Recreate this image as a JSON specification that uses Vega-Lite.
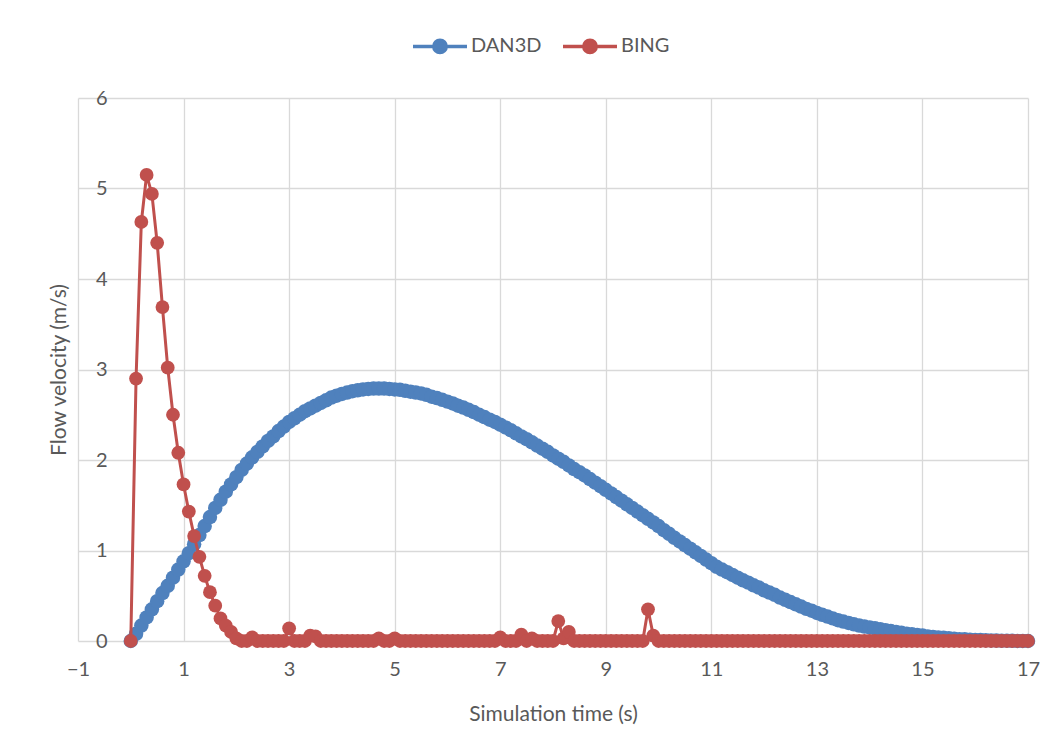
{
  "$schema": "https://vega.github.io/schema/vega-lite/v6.json",
  "width": 950,
  "height": 543,
  "autosize": {"type": "none"},
  "padding": {"left": 78, "top": 98, "right": 33, "bottom": 115},
  "background": "white",
  "config": {
    "font": "Lato",
    "view": {"stroke": null},
    "axis": {
      "labelColor": "#595959",
      "titleColor": "#595959",
      "titleFontWeight": "normal",
      "labelFontSize": 20,
      "titleFontSize": 21,
      "gridColor": "#d9d9d9",
      "gridWidth": 1.3,
      "domain": false,
      "ticks": false,
      "labelFlush": false
    }
  },
  "data": {
    "values": [
      {"t": 0, "DAN3D": 0, "BING": 0},
      {"t": 0.1, "DAN3D": 0.08, "BING": 2.9},
      {"t": 0.2, "DAN3D": 0.17, "BING": 4.63},
      {"t": 0.3, "DAN3D": 0.26, "BING": 5.15},
      {"t": 0.4, "DAN3D": 0.35, "BING": 4.94},
      {"t": 0.5, "DAN3D": 0.44, "BING": 4.4},
      {"t": 0.6, "DAN3D": 0.53, "BING": 3.69},
      {"t": 0.7, "DAN3D": 0.61, "BING": 3.02},
      {"t": 0.8, "DAN3D": 0.7, "BING": 2.5},
      {"t": 0.9, "DAN3D": 0.79, "BING": 2.08},
      {"t": 1.0, "DAN3D": 0.88, "BING": 1.73},
      {"t": 1.1, "DAN3D": 0.97, "BING": 1.43},
      {"t": 1.2, "DAN3D": 1.07, "BING": 1.16},
      {"t": 1.3, "DAN3D": 1.17, "BING": 0.93},
      {"t": 1.4, "DAN3D": 1.27, "BING": 0.72},
      {"t": 1.5, "DAN3D": 1.37, "BING": 0.54},
      {"t": 1.6, "DAN3D": 1.47, "BING": 0.39},
      {"t": 1.7, "DAN3D": 1.56, "BING": 0.25},
      {"t": 1.8, "DAN3D": 1.65, "BING": 0.17},
      {"t": 1.9, "DAN3D": 1.73, "BING": 0.1},
      {"t": 2.0, "DAN3D": 1.81, "BING": 0.03},
      {"t": 2.1, "DAN3D": 1.89, "BING": 0},
      {"t": 2.2, "DAN3D": 1.96, "BING": 0},
      {"t": 2.3, "DAN3D": 2.03, "BING": 0.04},
      {"t": 2.4, "DAN3D": 2.09, "BING": 0},
      {"t": 2.5, "DAN3D": 2.15, "BING": 0},
      {"t": 2.6, "DAN3D": 2.21, "BING": 0},
      {"t": 2.7, "DAN3D": 2.26, "BING": 0},
      {"t": 2.8, "DAN3D": 2.32, "BING": 0},
      {"t": 2.9, "DAN3D": 2.37, "BING": 0},
      {"t": 3.0, "DAN3D": 2.42, "BING": 0.14},
      {"t": 3.1, "DAN3D": 2.46, "BING": 0},
      {"t": 3.2, "DAN3D": 2.5, "BING": 0},
      {"t": 3.3, "DAN3D": 2.54, "BING": 0},
      {"t": 3.4, "DAN3D": 2.57, "BING": 0.06},
      {"t": 3.5, "DAN3D": 2.6, "BING": 0.05},
      {"t": 3.6, "DAN3D": 2.63, "BING": 0},
      {"t": 3.7, "DAN3D": 2.66, "BING": 0},
      {"t": 3.8, "DAN3D": 2.69, "BING": 0},
      {"t": 3.9, "DAN3D": 2.71, "BING": 0},
      {"t": 4.0, "DAN3D": 2.73, "BING": 0},
      {"t": 4.1, "DAN3D": 2.745, "BING": 0},
      {"t": 4.2, "DAN3D": 2.76, "BING": 0},
      {"t": 4.3, "DAN3D": 2.77, "BING": 0},
      {"t": 4.4, "DAN3D": 2.78, "BING": 0},
      {"t": 4.5, "DAN3D": 2.785, "BING": 0},
      {"t": 4.6, "DAN3D": 2.79, "BING": 0},
      {"t": 4.7, "DAN3D": 2.79, "BING": 0.03},
      {"t": 4.8, "DAN3D": 2.79, "BING": 0},
      {"t": 4.9, "DAN3D": 2.785, "BING": 0},
      {"t": 5.0, "DAN3D": 2.78, "BING": 0.03},
      {"t": 5.1, "DAN3D": 2.775, "BING": 0},
      {"t": 5.2, "DAN3D": 2.765, "BING": 0},
      {"t": 5.3, "DAN3D": 2.755, "BING": 0},
      {"t": 5.4, "DAN3D": 2.745, "BING": 0},
      {"t": 5.5, "DAN3D": 2.735, "BING": 0},
      {"t": 5.6, "DAN3D": 2.72, "BING": 0},
      {"t": 5.7, "DAN3D": 2.7, "BING": 0},
      {"t": 5.8, "DAN3D": 2.685, "BING": 0},
      {"t": 5.9, "DAN3D": 2.665, "BING": 0},
      {"t": 6.0, "DAN3D": 2.645, "BING": 0},
      {"t": 6.1, "DAN3D": 2.625, "BING": 0},
      {"t": 6.2, "DAN3D": 2.6, "BING": 0},
      {"t": 6.3, "DAN3D": 2.58, "BING": 0},
      {"t": 6.4, "DAN3D": 2.555, "BING": 0},
      {"t": 6.5, "DAN3D": 2.53, "BING": 0},
      {"t": 6.6, "DAN3D": 2.5, "BING": 0},
      {"t": 6.7, "DAN3D": 2.475, "BING": 0},
      {"t": 6.8, "DAN3D": 2.445, "BING": 0},
      {"t": 6.9, "DAN3D": 2.42, "BING": 0},
      {"t": 7.0, "DAN3D": 2.39, "BING": 0.04},
      {"t": 7.1, "DAN3D": 2.36, "BING": 0},
      {"t": 7.2, "DAN3D": 2.33, "BING": 0},
      {"t": 7.3, "DAN3D": 2.295, "BING": 0},
      {"t": 7.4, "DAN3D": 2.26, "BING": 0.07},
      {"t": 7.5, "DAN3D": 2.23, "BING": 0},
      {"t": 7.6, "DAN3D": 2.195, "BING": 0.03},
      {"t": 7.7, "DAN3D": 2.16, "BING": 0},
      {"t": 7.8, "DAN3D": 2.125, "BING": 0},
      {"t": 7.9, "DAN3D": 2.09, "BING": 0},
      {"t": 8.0, "DAN3D": 2.05, "BING": 0},
      {"t": 8.1, "DAN3D": 2.015, "BING": 0.22},
      {"t": 8.2, "DAN3D": 1.98, "BING": 0.03},
      {"t": 8.3, "DAN3D": 1.94, "BING": 0.1},
      {"t": 8.4, "DAN3D": 1.9, "BING": 0},
      {"t": 8.5, "DAN3D": 1.865, "BING": 0},
      {"t": 8.6, "DAN3D": 1.83, "BING": 0},
      {"t": 8.7, "DAN3D": 1.79, "BING": 0},
      {"t": 8.8, "DAN3D": 1.75, "BING": 0},
      {"t": 8.9, "DAN3D": 1.71, "BING": 0},
      {"t": 9.0, "DAN3D": 1.67, "BING": 0},
      {"t": 9.1, "DAN3D": 1.63, "BING": 0},
      {"t": 9.2, "DAN3D": 1.59, "BING": 0},
      {"t": 9.3, "DAN3D": 1.55, "BING": 0},
      {"t": 9.4, "DAN3D": 1.51, "BING": 0},
      {"t": 9.5, "DAN3D": 1.47, "BING": 0},
      {"t": 9.6, "DAN3D": 1.43, "BING": 0},
      {"t": 9.7, "DAN3D": 1.39, "BING": 0},
      {"t": 9.8, "DAN3D": 1.35, "BING": 0.35},
      {"t": 9.9, "DAN3D": 1.31, "BING": 0.06},
      {"t": 10.0, "DAN3D": 1.27, "BING": 0},
      {"t": 10.1, "DAN3D": 1.225, "BING": 0},
      {"t": 10.2, "DAN3D": 1.185, "BING": 0},
      {"t": 10.3, "DAN3D": 1.14, "BING": 0},
      {"t": 10.4, "DAN3D": 1.1, "BING": 0},
      {"t": 10.5, "DAN3D": 1.06, "BING": 0},
      {"t": 10.6, "DAN3D": 1.02, "BING": 0},
      {"t": 10.7, "DAN3D": 0.98, "BING": 0},
      {"t": 10.8, "DAN3D": 0.94, "BING": 0},
      {"t": 10.9, "DAN3D": 0.9, "BING": 0},
      {"t": 11.0, "DAN3D": 0.86, "BING": 0},
      {"t": 11.1, "DAN3D": 0.82, "BING": 0},
      {"t": 11.2, "DAN3D": 0.79, "BING": 0},
      {"t": 11.3, "DAN3D": 0.76, "BING": 0},
      {"t": 11.4, "DAN3D": 0.73, "BING": 0},
      {"t": 11.5, "DAN3D": 0.7, "BING": 0},
      {"t": 11.6, "DAN3D": 0.67, "BING": 0},
      {"t": 11.7, "DAN3D": 0.645, "BING": 0},
      {"t": 11.8, "DAN3D": 0.615, "BING": 0},
      {"t": 11.9, "DAN3D": 0.59, "BING": 0},
      {"t": 12.0, "DAN3D": 0.56, "BING": 0},
      {"t": 12.1, "DAN3D": 0.535, "BING": 0},
      {"t": 12.2, "DAN3D": 0.51, "BING": 0},
      {"t": 12.3, "DAN3D": 0.48, "BING": 0},
      {"t": 12.4, "DAN3D": 0.455, "BING": 0},
      {"t": 12.5, "DAN3D": 0.43, "BING": 0},
      {"t": 12.6, "DAN3D": 0.405, "BING": 0},
      {"t": 12.7, "DAN3D": 0.38, "BING": 0},
      {"t": 12.8, "DAN3D": 0.355, "BING": 0},
      {"t": 12.9, "DAN3D": 0.335, "BING": 0},
      {"t": 13.0, "DAN3D": 0.31, "BING": 0},
      {"t": 13.1, "DAN3D": 0.29, "BING": 0},
      {"t": 13.2, "DAN3D": 0.27, "BING": 0},
      {"t": 13.3, "DAN3D": 0.25, "BING": 0},
      {"t": 13.4, "DAN3D": 0.23, "BING": 0},
      {"t": 13.5, "DAN3D": 0.215, "BING": 0},
      {"t": 13.6, "DAN3D": 0.2, "BING": 0},
      {"t": 13.7, "DAN3D": 0.185, "BING": 0},
      {"t": 13.8, "DAN3D": 0.17, "BING": 0},
      {"t": 13.9, "DAN3D": 0.16, "BING": 0},
      {"t": 14.0, "DAN3D": 0.15, "BING": 0},
      {"t": 14.1, "DAN3D": 0.14, "BING": 0},
      {"t": 14.2, "DAN3D": 0.13, "BING": 0},
      {"t": 14.3, "DAN3D": 0.12, "BING": 0},
      {"t": 14.4, "DAN3D": 0.11, "BING": 0},
      {"t": 14.5, "DAN3D": 0.1, "BING": 0},
      {"t": 14.6, "DAN3D": 0.09, "BING": 0},
      {"t": 14.7, "DAN3D": 0.08, "BING": 0},
      {"t": 14.8, "DAN3D": 0.075, "BING": 0},
      {"t": 14.9, "DAN3D": 0.065, "BING": 0},
      {"t": 15.0, "DAN3D": 0.06, "BING": 0},
      {"t": 15.1, "DAN3D": 0.05, "BING": 0},
      {"t": 15.2, "DAN3D": 0.045, "BING": 0},
      {"t": 15.3, "DAN3D": 0.04, "BING": 0},
      {"t": 15.4, "DAN3D": 0.035, "BING": 0},
      {"t": 15.5, "DAN3D": 0.03, "BING": 0},
      {"t": 15.6, "DAN3D": 0.025, "BING": 0},
      {"t": 15.7, "DAN3D": 0.02, "BING": 0},
      {"t": 15.8, "DAN3D": 0.018, "BING": 0},
      {"t": 15.9, "DAN3D": 0.015, "BING": 0},
      {"t": 16.0, "DAN3D": 0.012, "BING": 0},
      {"t": 16.1, "DAN3D": 0.01, "BING": 0},
      {"t": 16.2, "DAN3D": 0.008, "BING": 0},
      {"t": 16.3, "DAN3D": 0.006, "BING": 0},
      {"t": 16.4, "DAN3D": 0.005, "BING": 0},
      {"t": 16.5, "DAN3D": 0.004, "BING": 0},
      {"t": 16.6, "DAN3D": 0.003, "BING": 0},
      {"t": 16.7, "DAN3D": 0.002, "BING": 0},
      {"t": 16.8, "DAN3D": 0.001, "BING": 0},
      {"t": 16.9, "DAN3D": 0.001, "BING": 0},
      {"t": 17.0, "DAN3D": 0, "BING": 0}
    ]
  },
  "transform": [{"fold": ["DAN3D", "BING"], "as": ["series", "velocity"]}],
  "layer": [
    {
      "data": {"values": [{"axisAt": 0}]},
      "mark": {"type": "rule", "color": "#bfbfbf", "strokeWidth": 1.5},
      "encoding": {
        "x": {"field": "axisAt", "type": "quantitative"}
      }
    },
    {
      "transform": [{"filter": "datum.series === 'DAN3D'"}],
      "mark": {"type": "line", "strokeWidth": 3, "point": {"filled": true, "size": 210}},
      "encoding": {
        "x": {"field": "t", "type": "quantitative"},
        "y": {"field": "velocity", "type": "quantitative"},
        "color": {"field": "series", "type": "nominal"}
      }
    },
    {
      "transform": [{"filter": "datum.series === 'BING'"}],
      "mark": {"type": "line", "strokeWidth": 3, "point": {"filled": true, "size": 190}},
      "encoding": {
        "x": {"field": "t", "type": "quantitative"},
        "y": {"field": "velocity", "type": "quantitative"},
        "color": {"field": "series", "type": "nominal"}
      }
    }
  ],
  "encoding": {
    "x": {
      "field": "t",
      "type": "quantitative",
      "scale": {"domain": [-1, 17], "nice": false, "zero": false},
      "axis": {
        "title": "Simulation time (s)",
        "values": [-1, 1, 3, 5, 7, 9, 11, 13, 15, 17],
        "labelPadding": 18,
        "titleY": 62,
        "titleBaseline": "top"
      }
    },
    "y": {
      "field": "velocity",
      "type": "quantitative",
      "scale": {"domain": [0, 6], "nice": false},
      "axis": {
        "title": "Flow velocity (m/s)",
        "values": [0, 1, 2, 3, 4, 5, 6],
        "labelAlign": "right",
        "labelPadding": -29,
        "titleX": -19,
        "titleY": 271.5,
        "titleAngle": -90,
        "titleAlign": "center",
        "titleBaseline": "middle"
      }
    },
    "color": {
      "field": "series",
      "type": "nominal",
      "scale": {"domain": ["DAN3D", "BING"], "range": ["#4F81BD", "#C0504D"]},
      "legend": {
        "orient": "none",
        "direction": "horizontal",
        "legendX": 333,
        "legendY": -81,
        "title": null,
        "padding": 0,
        "symbolType": "M-1,0H1M0.23,0A0.23,0.23,0,1,1,-0.23,0A0.23,0.23,0,1,1,0.23,0Z",
        "symbolSize": 2916,
        "symbolStrokeWidth": 3.5,
        "labelFontSize": 20,
        "labelColor": "#595959",
        "labelOffset": 2,
        "columnPadding": 14,
        "encode": {
          "symbols": {
            "update": {
              "fill": {"scale": "color", "field": "value"},
              "stroke": {"scale": "color", "field": "value"},
              "opacity": {"value": 1}
            }
          }
        }
      }
    }
  }
}
